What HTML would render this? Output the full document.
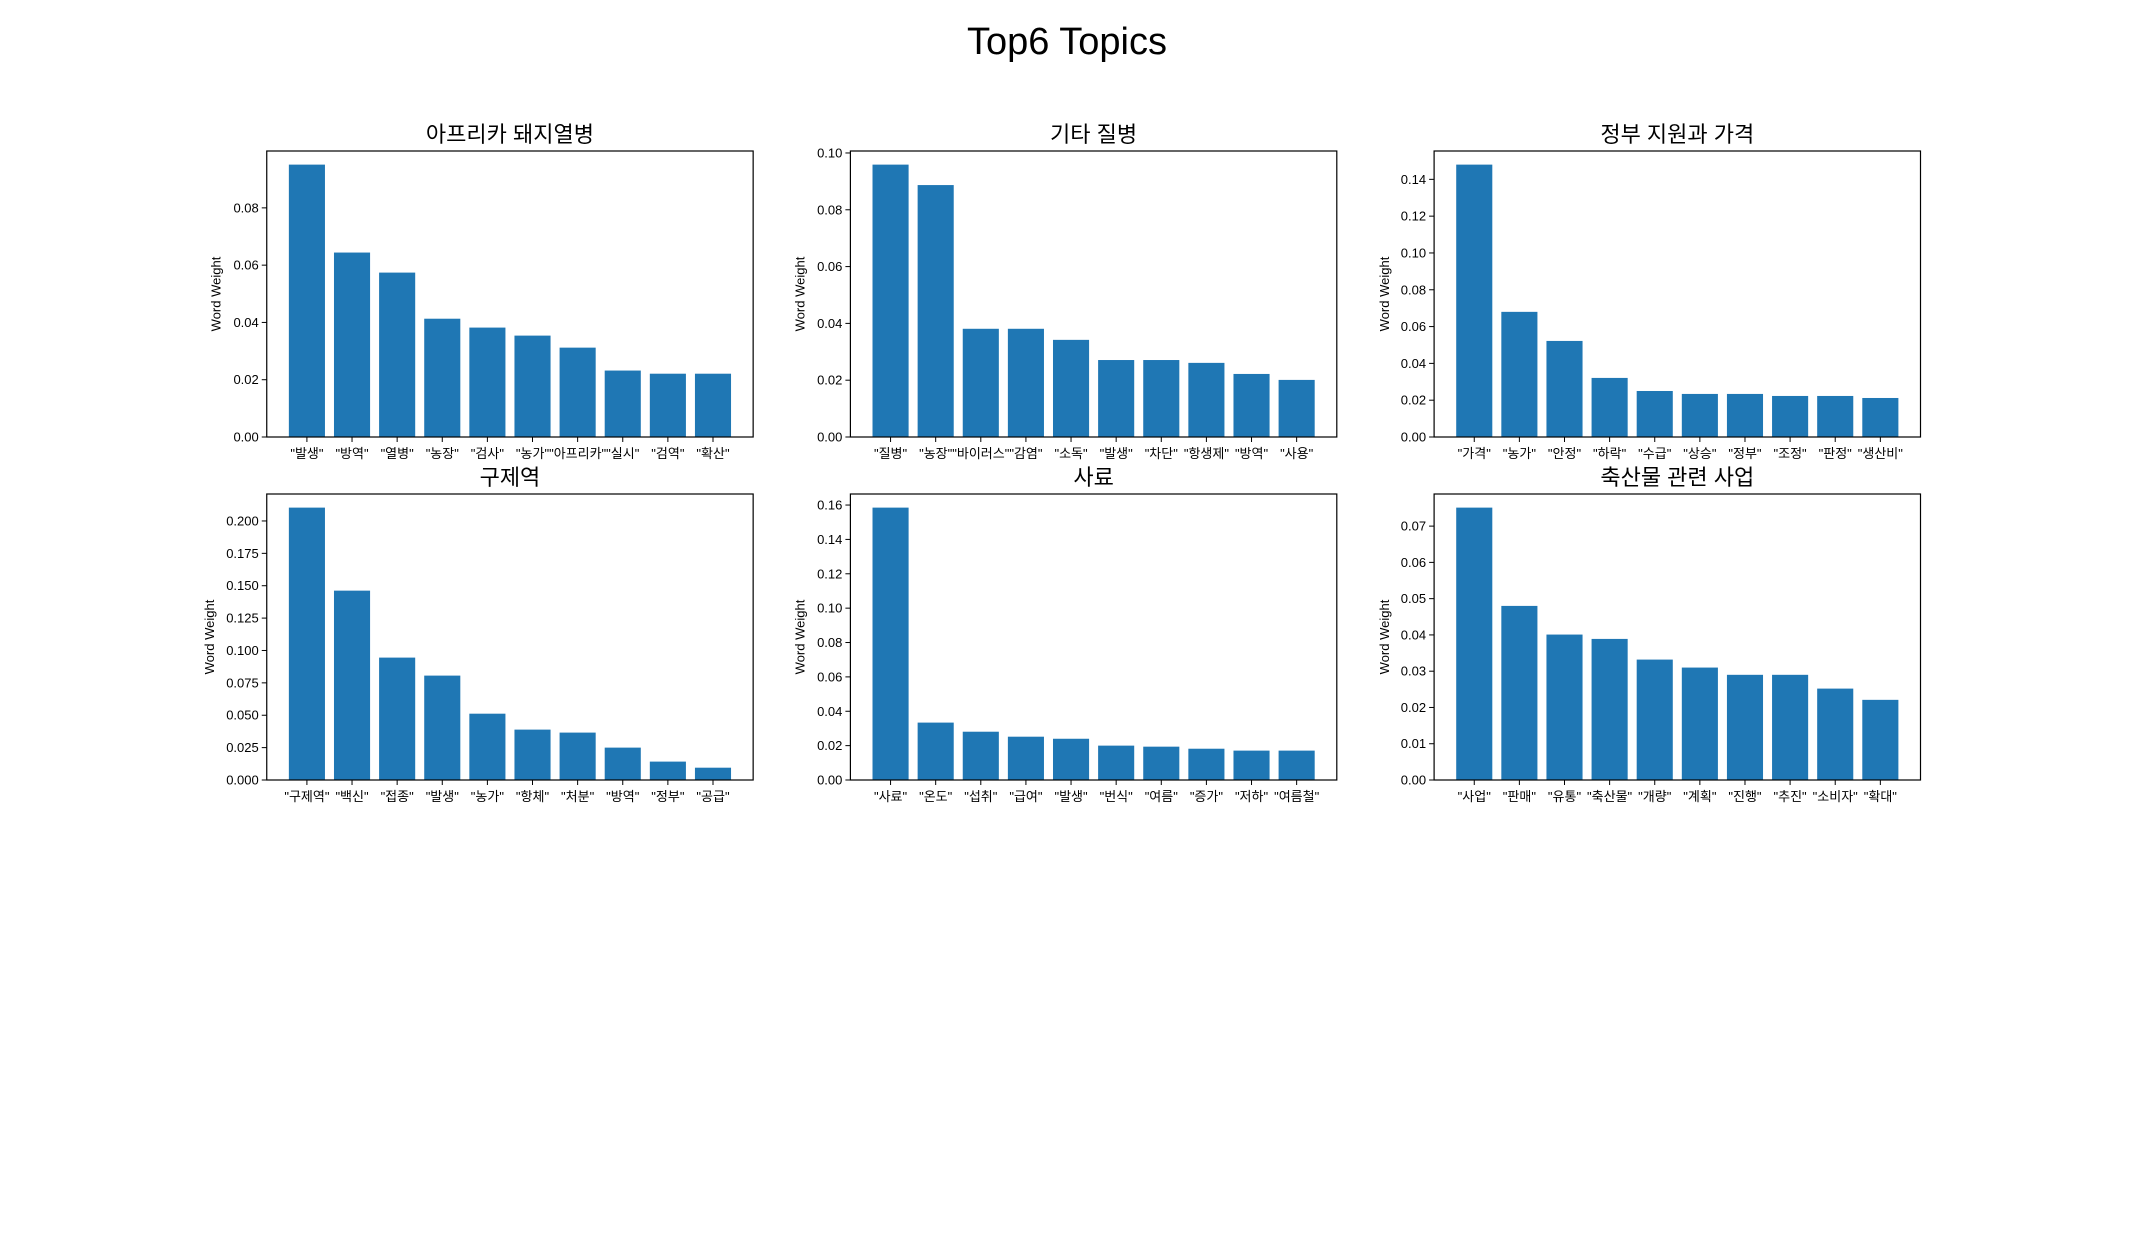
<!DOCTYPE html>
<html><head><meta charset="utf-8">
<style>
html,body{margin:0;padding:0;background:#fff;}
svg{display:block;font-family:"Liberation Sans","Noto Sans CJK KR",sans-serif;}
</style></head>
<body>
<svg id="fig" width="2134" height="1260" viewBox="0 0 2134 1260" xmlns="http://www.w3.org/2000/svg">
<rect width="2134" height="1260" fill="#fff"/>
<text x="1067" y="54" font-size="38" text-anchor="middle" fill="#000">Top6 Topics</text>
</svg>
<script>
const titles = ["아프리카 돼지열병","기타 질병","정부 지원과 가격","구제역","사료","축산물 관련 사업"];
const cats1 = ["발생","방역","열병","농장","검사","농가","아프리카","실시","검역","확산"];
const vals1 = [0.0951,0.0644,0.0574,0.0413,0.0382,0.0354,0.0312,0.0232,0.0221,0.0221];
const cats2 = ["질병","농장","바이러스","감염","소독","발생","차단","항생제","방역","사용"];
const vals2 = [0.0959,0.0887,0.0381,0.0381,0.0342,0.0271,0.0271,0.0261,0.0222,0.0201];
const cats3 = ["가격","농가","안정","하락","수급","상승","정부","조정","판정","생산비"];
const vals3 = [0.148,0.068,0.0522,0.0321,0.025,0.0234,0.0234,0.0223,0.0223,0.0212];
const cats4 = ["구제역","백신","접종","발생","농가","항체","처분","방역","정부","공급"];
const vals4 = [0.2103,0.1462,0.0945,0.0806,0.0512,0.0389,0.0366,0.0250,0.0142,0.0095];
const cats5 = ["사료","온도","섭취","급여","발생","번식","여름","증가","저하","여름철"];
const vals5 = [0.1585,0.0334,0.0281,0.0252,0.024,0.020,0.0194,0.0182,0.0171,0.0171];
const cats6 = ["사업","판매","유통","축산물","개량","계획","진행","추진","소비자","확대"];
const vals6 = [0.0751,0.048,0.0401,0.0389,0.0332,0.031,0.029,0.029,0.0252,0.0221];
const ticks1 = ["0.00","0.02","0.04","0.06","0.08"];
const ticks2 = ["0.00","0.02","0.04","0.06","0.08","0.10"];
const ticks3 = ["0.00","0.02","0.04","0.06","0.08","0.10","0.12","0.14"];
const ticks4 = ["0.000","0.025","0.050","0.075","0.100","0.125","0.150","0.175","0.200"];
const ticks5 = ["0.00","0.02","0.04","0.06","0.08","0.10","0.12","0.14","0.16"];
const ticks6 = ["0.00","0.01","0.02","0.03","0.04","0.05","0.06","0.07"];

const NS="http://www.w3.org/2000/svg";
const svg=document.getElementById('fig');
function mk(tag,attrs,parent){const e=document.createElementNS(NS,tag);for(const k in attrs)e.setAttribute(k,attrs[k]);(parent||svg).appendChild(e);return e;}
const colX=[266.75,850.4,1434.1], rowY=[151,494], W=486.4, H=286;
const ylabX=[[216.5,800.6,1385],[210,800.6,1385]];
const panels=[[cats1,vals1,ticks1],[cats2,vals2,ticks2],[cats3,vals3,ticks3],[cats4,vals4,ticks4],[cats5,vals5,ticks5],[cats6,vals6,ticks6]];
panels.forEach((p,i)=>{
  const cats=p[0], vals=p[1], ticks=p[2];
  const r=Math.floor(i/3), c=i%3;
  const x0=colX[c], y0=rowY[r];
  const g=mk('g',{});
  
  
  const n=cats.length;
  const xmin=-0.4-0.05*(n-1+0.8), xmax=n-1+0.4+0.05*(n-1+0.8);
  const ymax=Math.max(...vals)*1.05;
  const sx=v=>x0+(v-xmin)/(xmax-xmin)*W;
  const sy=v=>y0+H-(v/ymax)*H;
  vals.forEach((v,k)=>{
    const b=mk('rect',{x:sx(k-0.4),y:sy(v),width:sx(k+0.4)-sx(k-0.4),height:sy(0)-sy(v),fill:'#1f77b4'},g);
    
    
    mk('line',{x1:sx(k),x2:sx(k),y1:y0+H,y2:y0+H+5,stroke:'#000','stroke-width':1},g);
    const t=mk('text',{x:sx(k),y:y0+H+21,'font-size':13,'text-anchor':'middle',fill:'#000'},g);
    t.textContent='"'+cats[k]+'"';
    
    
  });
  ticks.forEach(tl=>{
    const v=parseFloat(tl), y=sy(v);
    mk('line',{x1:x0-5,x2:x0,y1:y,y2:y,stroke:'#000','stroke-width':1},g);
    const t=mk('text',{x:x0-8,y:y+4.5,'font-size':13,'text-anchor':'end',fill:'#000'},g);
    t.textContent=tl;
    
    
  });
  const fr=mk('rect',{x:x0,y:y0,width:W,height:H,fill:'none',stroke:'#000','stroke-width':1.2},g);
  
  
  const yl=mk('text',{x:0,y:0,'font-size':13,'text-anchor':'middle',fill:'#000',transform:`translate(${ylabX[r][c]+4},${y0+H/2}) rotate(-90)`},g);
  yl.textContent='Word Weight';
  
  
  const tt=mk('text',{x:x0+W/2,y:y0-9,'font-size':22,'text-anchor':'middle',fill:'#000'},g);
  tt.textContent=titles[i];
  
  
});
</script>
</body></html>
